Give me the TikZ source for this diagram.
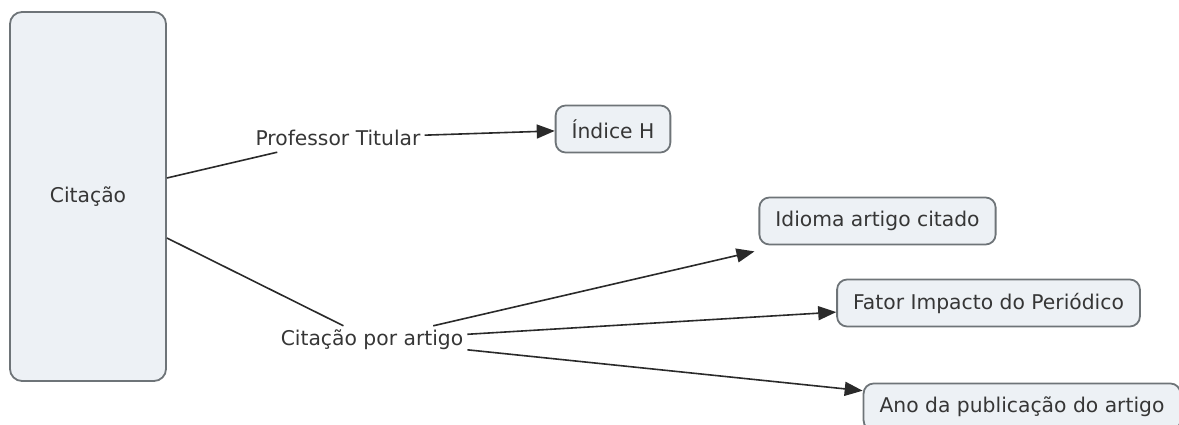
\documentclass[tikz,border=0pt]{standalone}
\usepackage{fontspec}
\setmainfont{DejaVu Sans}
\usetikzlibrary{arrows.meta,calc}
\definecolor{conceptfill}{HTML}{EDF1F5}
\definecolor{conceptline}{HTML}{6E7478}
\definecolor{inktext}{HTML}{363636}
\definecolor{linkline}{HTML}{2A2A2A}
\tikzset{
  concept/.style={draw=conceptline, fill=conceptfill, line width=1.8pt,
    rounded corners=10pt, text=inktext, font=\fontsize{20.3}{24}\selectfont,
    minimum height=47pt, inner xsep=16pt, inner ysep=0pt},
  linklabel/.style={text=inktext, font=\fontsize{20.3}{24}\selectfont,
    minimum height=28pt, inner xsep=4pt, inner ysep=0pt},
  link/.style={draw=linkline, line width=1.6pt},
  linkarrow/.style={link, -{Triangle[length=18pt,width=14pt]}}
}
\begin{document}
\begin{tikzpicture}[x=1pt,y=-1pt]
  \useasboundingbox (0,0) rectangle (1179,425);
  \clip (0,0) rectangle (1179,425);

  % concepts
  \node[concept, rounded corners=12pt, minimum width=156pt, minimum height=369pt]
    (cit) at (88,196.5) {Citação};
  \node[concept] (idx) at (613,129) {Índice H};
  \node[concept] (idi) at (877.5,221) {Idioma artigo citado};
  \node[concept] (fat) at (988.5,303) {Fator Impacto do Periódico};
  \node[concept] (ano) at (1022,407) {Ano da publicação do artigo};

  % linking phrases
  \node[linklabel] (pt) at (338,138) {Professor Titular};
  \node[linklabel] (cpa) at (372,340) {Citação por artigo};

  % anchor points on the concept border
  \coordinate (citA) at ([yshift=18.5pt]cit.east);
  \coordinate (citB) at ([yshift=-41.5pt]cit.east);
  \coordinate (idiIn) at ([xshift=-4pt,yshift=-6pt]idi.south west);

  % connectors
  \draw[link] (citA) -- (pt);
  \draw[linkarrow] (pt) -- (idx);
  \draw[link] (citB) -- (cpa);
  \draw[linkarrow] (cpa) -- (idiIn);
  \draw[linkarrow] (cpa) -- (fat);
  \draw[linkarrow] (cpa) -- (ano);
\end{tikzpicture}
\end{document}
